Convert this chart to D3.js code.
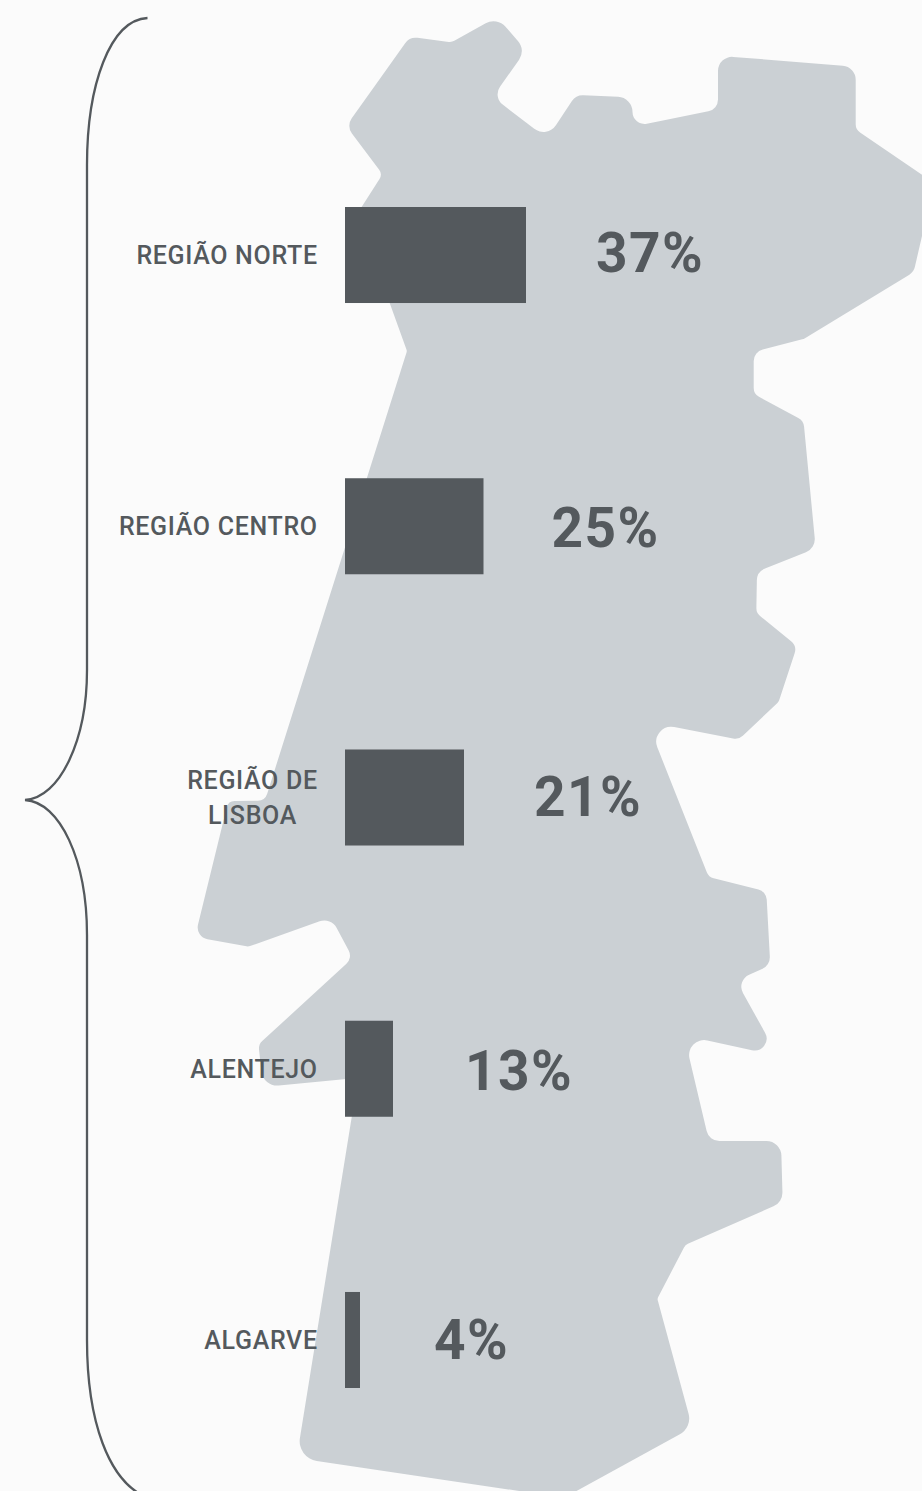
<!DOCTYPE html>
<html lang="pt">
<head>
<meta charset="utf-8">
<title>Regiões de Portugal</title>
<script src="https://cdn.jsdelivr.net/npm/d3@7/dist/d3.min.js"></script>
<style>
html,body{margin:0;padding:0;background:#fbfbfb;overflow:hidden}
svg{display:block}
text{font-family:Roboto,"Noto Sans",sans-serif;fill:#54595d}
</style>
</head>
<body>
<svg id="chart" width="922" height="1491"></svg>
<script>
const categories = ["Região Norte", "Região Centro", "Região de Lisboa", "Alentejo", "Algarve"];
const labelLines = [["REGIÃO NORTE"], ["REGIÃO CENTRO"], ["REGIÃO DE", "LISBOA"], ["ALENTEJO"], ["ALGARVE"]];
const shares = [37, 25, 21, 13, 4];
const valueLabels = ["37%", "25%", "21%", "13%", "4%"];

// Bar lengths in the picture are not proportional to the printed shares, so the scale is piecewise.
const shareKnots = [0, 4, 13, 21, 25, 37];
const lengthKnots = [0, 15, 48, 119, 138.5, 181];

// Decorative silhouette of Portugal: [x, y, corner radius]
const mapOutline = [
  [409.7,36.8,13],[451.7,42.3,9],[497,17,16],[525.9,50,15],[492.8,97,13],[547,138.6,15],
  [576,95,13],[632.3,97.5,15],[632.7,126.5,12],[718,109.4,12],[718,55.7,14],[855.7,66.7,14],
  [855.7,129.5,10],[931,181,5],[922,236,0],[913.7,272,12],[803.7,339,10],[753.7,351.7,12],
  [753.7,394,10],[803.5,420.7,11],[815.7,548.3,14],[757,571.7,13],[756.3,613,10],[797,646,11],
  [778.7,701.7,7],[738.7,739.7,11],[647.2,721.8,15],[708.7,877,10],[766.3,891.5,11],[770.3,965.5,13],
  [736,980.5,13],[778,1056,12],[684,1035.3,15],[709,1141,13],[781,1141,15],[782.7,1202.3,15],
  [685.3,1245,8],[657.3,1298.7,5],[692.3,1427.5,18],[564.3,1497.7,0],[296.7,1458,20],[358,1078,5],
  [263,1087,16],[258.5,1044.5,10],[352.7,958,11],[331,917.3,14],[248.3,946.7,7],[195,937,12],
  [228.3,801,8],[265,800.7,10],[407,351,4],[385,290,0],[352,222,0],[382.5,174.3,8],[346.2,126,13]
];

const ink = "#54595d", land = "#cbd0d4";
const svg = d3.select("#chart");

// map
const mp = d3.path();
const n = mapOutline.length;
mp.moveTo((mapOutline[n-1][0]+mapOutline[0][0])/2, (mapOutline[n-1][1]+mapOutline[0][1])/2);
mapOutline.forEach((v,i)=>{
  const w = mapOutline[(i+1)%n];
  if (v[2] > 0) mp.arcTo(v[0],v[1],w[0],w[1],v[2]); else mp.lineTo(v[0],v[1]);
});
mp.closePath();
svg.append("path").attr("d",mp.toString()).attr("fill",land);

// brace
const br = d3.path();
br.moveTo(147.5,18);
br.bezierCurveTo(110,20,87,85,87,165);
br.lineTo(87,670);
br.bezierCurveTo(87,740,60,798,25,800);
br.bezierCurveTo(60,802,87,860,87,935);
br.lineTo(87,1340);
br.bezierCurveTo(87,1420,108,1482,148,1498);
svg.append("path").attr("d",br.toString()).attr("fill","none").attr("stroke",ink).attr("stroke-width",2.3);

// scales
const y = d3.scaleBand().domain(categories).range([207,1388]).paddingInner(0.646);
const w = d3.scaleLinear().domain(shareKnots).range(lengthKnots);
const x0 = 345;
const valueNudgeX = [0, -2, 0, 2, 4];
const valueNudgeY = [17, 21, 18, 21, 19];

const rows = svg.selectAll("g.row").data(categories).join("g").attr("class","row");

rows.append("rect")
  .attr("x",x0)
  .attr("y",d=>y(d))
  .attr("width",(d,i)=>w(shares[i]))
  .attr("height",y.bandwidth())
  .attr("fill",ink);

rows.append("text")
  .attr("x",(d,i)=>x0+w(shares[i])+70+valueNudgeX[i])
  .attr("y",(d,i)=>y(d)+y.bandwidth()/2+valueNudgeY[i])
  .attr("font-size",55)
  .attr("font-weight",700)
  .attr("letter-spacing",1.5)
  .text((d,i)=>valueLabels[i]);

rows.each(function(d,i){
  const g = d3.select(this);
  const lines = labelLines[i];
  const cy = y(d)+y.bandwidth()/2;
  const lh = 35;
  const ts = lines.map((t,k)=>g.append("text")
    .attr("y",cy+9-(lines.length-1)*lh/2+k*lh)
    .attr("font-size",25)
    .attr("font-weight",500)
    .attr("letter-spacing",0.67)
    .text(t));
  const widest = d3.max(ts,t=>t.node().getComputedTextLength());
  ts.forEach(t=>t.attr("x",317.7-widest/2).attr("text-anchor","middle"));
});
</script>
</body>
</html>
